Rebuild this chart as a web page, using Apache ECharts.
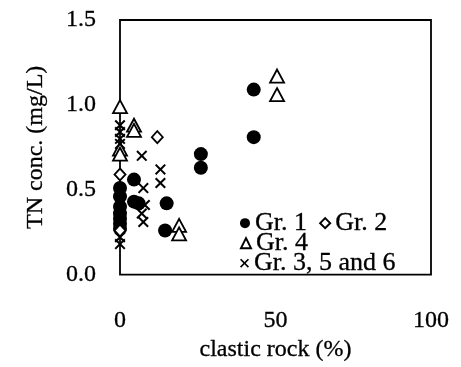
<!DOCTYPE html>
<html>
<head>
<meta charset="utf-8">
<script src="https://cdn.jsdelivr.net/npm/echarts@6/dist/echarts.min.js"></script>
<style>
  html, body { margin: 0; padding: 0; background: #fff; }
  #chart { width: 461px; height: 367px; }
</style>
</head>
<body>
<div id="chart"></div>
<script>
// clastic rock (%) vs TN concentration (mg/L), by group
const group1 = [
  [43, 1.09], [43, 0.81], [26, 0.71], [26, 0.63], [15, 0.42], [14.5, 0.26],
  [4.5, 0.56], [4.5, 0.43], [6, 0.42],
  [0, 0.51], [0, 0.46], [0, 0.40], [0, 0.36], [0, 0.33], [0, 0.30], [0, 0.27]
];
const group2 = [[12, 0.81], [0, 0.59], [0, 0.26]];
const group4 = [
  [50.5, 1.17], [50.5, 1.06], [0, 0.99], [4.5, 0.88], [4.5, 0.85],
  [0, 0.74], [0, 0.71], [19, 0.29], [19, 0.24]
];
const group356 = [
  [0, 0.88], [0, 0.84], [0, 0.80], [0, 0.77], [0, 0.43], [0, 0.38], [0, 0.34],
  [0, 0.22], [0, 0.18],
  [7, 0.70], [13, 0.62], [13, 0.54], [7.5, 0.51], [8, 0.41], [7, 0.36], [7.5, 0.31]
];
const seriesNames = ['Gr. 1', 'Gr. 2', 'Gr. 4', 'Gr. 3, 5 and 6'];
const xTicks = [0, 50, 100];
const yTicks = [0, 0.5, 1.0, 1.5];

const FONT = '"Liberation Serif", "Times New Roman", serif';
const crossPath = 'path://M0,1.3L1.3,0L5,3.7L8.7,0L10,1.3L6.3,5L10,8.7L8.7,10L5,6.3L1.3,10L0,8.7L3.7,5Z';

// slightly heavy glyphs, like a printed figure
const ink = { color: '#000', textBorderColor: '#000', textBorderWidth: 0.3 };
const legendText = Object.assign({ fontFamily: FONT, fontSize: 26, lineHeight: 20 }, ink);
const axisText = Object.assign({ fontFamily: FONT, fontSize: 24 }, ink);

const chart = echarts.init(document.getElementById('chart'), null, { renderer: 'canvas' });

chart.setOption({
  animation: false,
  backgroundColor: '#fff',
  grid: {
    left: 120, right: 30, top: 20, bottom: 90,
    show: true, borderColor: '#000', borderWidth: 1.8, backgroundColor: 'transparent'
  },
  legend: [
    { data: [seriesNames[0], seriesNames[1]], left: 240, top: 210, padding: 0,
      itemWidth: 10, itemHeight: 10, itemGap: 12, textStyle: legendText, selectedMode: false },
    { data: [seriesNames[2]], left: 240, top: 230, padding: 0,
      itemWidth: 10, itemHeight: 10, textStyle: legendText, selectedMode: false },
    { data: [seriesNames[3]], left: 240, top: 250, padding: 0,
      itemWidth: 9, itemHeight: 9, itemGap: 6, textStyle: legendText, selectedMode: false }
  ],
  xAxis: {
    type: 'value', min: xTicks[0], max: xTicks[xTicks.length - 1], interval: 50,
    axisLine: { show: false }, axisTick: { show: false }, splitLine: { show: false },
    axisLabel: Object.assign({ margin: 34 }, axisText),
    name: 'clastic rock (%)', nameLocation: 'middle', nameGap: 62,
    nameTextStyle: axisText
  },
  yAxis: {
    type: 'value', min: yTicks[0], max: yTicks[yTicks.length - 1], interval: 0.5,
    axisLine: { show: false }, axisTick: { show: false }, splitLine: { show: false },
    axisLabel: Object.assign({ margin: 24, formatter: v => v.toFixed(1) }, axisText),
    name: 'TN conc. (mg/L)', nameLocation: 'middle', nameGap: 72, nameRotate: 90,
    nameTextStyle: axisText
  },
  series: [
    { name: seriesNames[0], type: 'scatter', data: group1, symbol: 'circle', symbolSize: 14,
      itemStyle: { color: '#000', opacity: 1 } },
    { name: seriesNames[1], type: 'scatter', data: group2, symbol: 'diamond', symbolSize: [11, 12],
      itemStyle: { color: '#fff', borderColor: '#000', borderWidth: 1.8, opacity: 1 } },
    { name: seriesNames[2], type: 'scatter', data: group4, symbol: 'triangle', symbolSize: [14, 13],
      itemStyle: { color: '#fff', borderColor: '#000', borderWidth: 1.8, opacity: 1 } },
    { name: seriesNames[3], type: 'scatter', data: group356, symbol: crossPath, symbolSize: 11,
      itemStyle: { color: '#000', opacity: 1 } }
  ]
});
</script>
</body>
</html>
